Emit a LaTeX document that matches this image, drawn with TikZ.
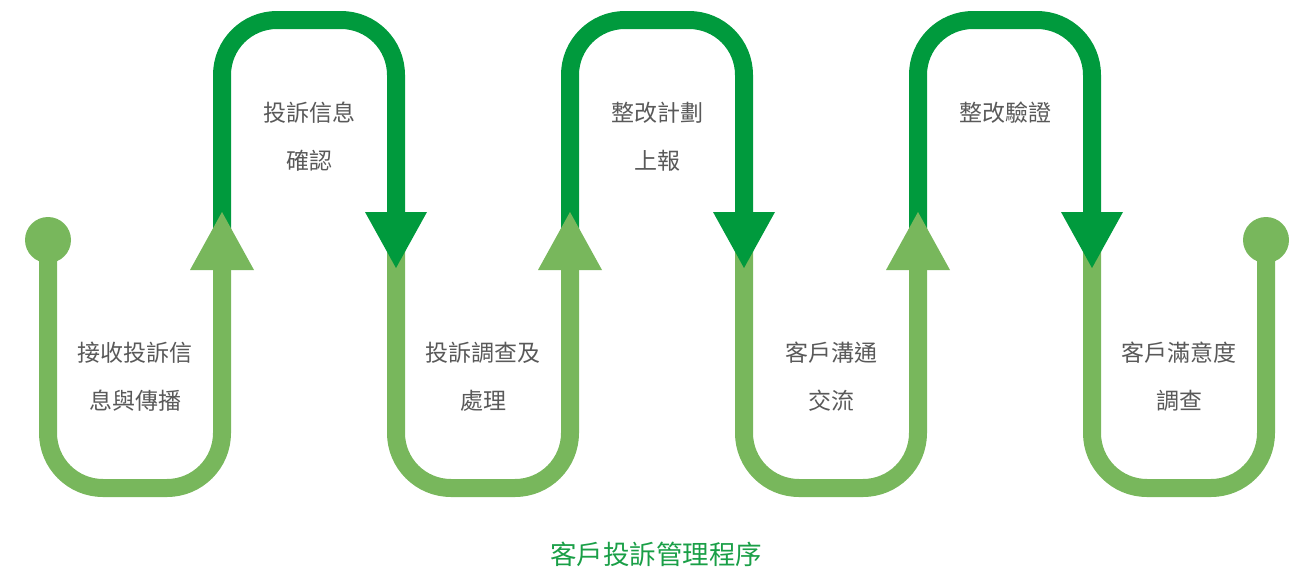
\documentclass[tikz,border=0pt]{standalone}
\usepackage{fontspec}
\setmainfont{Noto Sans CJK TC}
\definecolor{darkgr}{HTML}{009A3D}
\definecolor{lightgr}{HTML}{78B75C}
\definecolor{textgr}{HTML}{595959}
\definecolor{titlegr}{HTML}{1A9F47}
\tikzset{
  upper/.style={draw=darkgr,line width=18pt,rounded corners=55pt},
  lower/.style={draw=lightgr,line width=18pt,rounded corners=55pt},
  steptext/.style={text=textgr,font=\fontsize{23}{48}\selectfont,align=center},
}

\begin{document}
\begin{tikzpicture}[x=1pt,y=-1pt]
\useasboundingbox (0,0) rectangle (1302,570);

% upper arches
\draw[upper] (222,250) -- (222,20) -- (396,20) -- (396,214);
\draw[upper] (570,250) -- (570,20) -- (744,20) -- (744,214);
\draw[upper] (918,250) -- (918,20) -- (1092,20) -- (1092,214);

% lower bends
\draw[lower] (48,240) -- (48,488) -- (222,488) -- (222,266);
\draw[lower] (396,240) -- (396,488) -- (570,488) -- (570,266);
\draw[lower] (744,240) -- (744,488) -- (918,488) -- (918,266);
\draw[lower] (1092,240) -- (1092,488) -- (1266,488) -- (1266,240);
\fill[lightgr] (48,240) circle (23pt);
\fill[lightgr] (1266,240) circle (23pt);

% arrow heads
\fill[lightgr] (190,270) -- (222,212) -- (254,270) -- cycle;
\fill[lightgr] (538,270) -- (570,212) -- (602,270) -- cycle;
\fill[lightgr] (886,270) -- (918,212) -- (950,270) -- cycle;
\fill[darkgr] (365,212) -- (396,268) -- (427,212) -- cycle;
\fill[darkgr] (713,212) -- (744,268) -- (775,212) -- cycle;
\fill[darkgr] (1061,212) -- (1092,268) -- (1123,212) -- cycle;

\node[steptext] (step1) at (135,377) {接收投訴信\\息與傳播};
\node[steptext] (step2) at (309,137) {投訴信息\\確認};
\node[steptext] (step3) at (483,377) {投訴調查及\\處理};
\node[steptext] (step4) at (657,137) {整改計劃\\上報};
\node[steptext] (step5) at (831,377) {客戶溝通\\交流};
\node[steptext] (step6) at (1005,113) {整改驗證};
\node[steptext] (step7) at (1179,377) {客戶滿意度\\調查};

\node[text=titlegr,font=\fontsize{26.5}{30}\selectfont] (title) at (656,554) {客戶投訴管理程序};
\end{tikzpicture}
\end{document}
